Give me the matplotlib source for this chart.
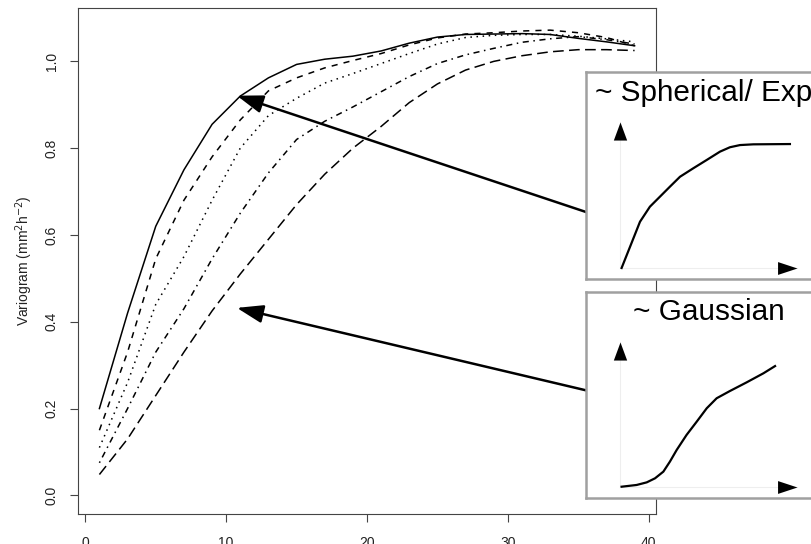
import matplotlib
matplotlib.use("Agg")
import matplotlib.pyplot as plt

plt.rcParams['font.family'] = ['Liberation Sans', 'DejaVu Sans']

# lag distance (h) and variogram curves
lag = [1, 3, 5, 7, 9, 11, 13, 15, 17, 19, 21, 23, 25, 27, 29, 31, 33, 35, 37, 39]
v_solid = [0.20, 0.42, 0.62, 0.75, 0.855, 0.92, 0.962, 0.993, 1.005, 1.012,
           1.024, 1.042, 1.056, 1.062, 1.063, 1.064, 1.062, 1.053, 1.045, 1.036]
v_dashed = [0.15, 0.33, 0.545, 0.68, 0.78, 0.865, 0.932, 0.962, 0.985, 1.002,
            1.018, 1.038, 1.054, 1.063, 1.066, 1.070, 1.072, 1.066, 1.055, 1.036]
v_dotted = [0.11, 0.26, 0.44, 0.55, 0.68, 0.80, 0.875, 0.915, 0.95, 0.972,
            0.995, 1.018, 1.04, 1.055, 1.06, 1.062, 1.062, 1.058, 1.052, 1.045]
v_dotdash = [0.075, 0.20, 0.33, 0.43, 0.545, 0.65, 0.743, 0.82, 0.862, 0.895,
             0.93, 0.965, 0.995, 1.015, 1.03, 1.044, 1.052, 1.057, 1.05, 1.04]
v_longdash = [0.048, 0.13, 0.23, 0.33, 0.425, 0.51, 0.59, 0.67, 0.74, 0.80,
              0.85, 0.905, 0.948, 0.98, 1.0, 1.013, 1.022, 1.027, 1.027, 1.025]

x_ticks = [0, 10, 20, 30, 40]
y_ticks = [0.0, 0.2, 0.4, 0.6, 0.8, 1.0]

# schematic inset curves (normalised 0..1 units)
sph_x = [0.009, 0.057, 0.113, 0.169, 0.226, 0.282, 0.339, 0.414, 0.490,
         0.565, 0.621, 0.678, 0.753, 0.960]
sph_y = [0.0, 0.146, 0.317, 0.420, 0.489, 0.557, 0.625, 0.683, 0.740,
         0.797, 0.827, 0.842, 0.847, 0.849]
gau_x = [0.009, 0.094, 0.151, 0.198, 0.245, 0.282, 0.320, 0.376, 0.433,
         0.490, 0.546, 0.621, 0.716, 0.810, 0.876]
gau_y = [0.002, 0.014, 0.032, 0.060, 0.106, 0.175, 0.255, 0.359, 0.450,
         0.543, 0.612, 0.662, 0.722, 0.784, 0.834]

W, H = 812, 544
fig = plt.figure(figsize=(W / 100, H / 100), dpi=100)
ax = fig.add_axes([78 / W, 1 - 514 / H, 578 / W, 506 / H])

styles = [
    (v_solid, '-'),
    (v_dashed, (0, (4, 4))),
    (v_dotted, (0, (1, 3))),
    (v_dotdash, (0, (1, 3, 4, 3))),
    (v_longdash, (0, (7, 3.5))),
]
for vals, ls in styles:
    ax.plot(lag, vals, color='black', lw=1.1, linestyle=ls)

ax.set_xlim(-0.52, 40.52)
ax.set_ylim(-0.043, 1.123)
ax.set_xticks(x_ticks)
ax.set_xticklabels([str(t) for t in x_ticks])
ax.set_yticks(y_ticks)
ax.set_yticklabels(['%.1f' % t for t in y_ticks])
for sp in ax.spines.values():
    sp.set_color('#444444')
    sp.set_linewidth(0.8)
ax.tick_params(axis='both', length=6, width=0.8, color='#444444',
               labelsize=10, labelcolor='#222222')
ax.tick_params(axis='x', pad=10)
ax.tick_params(axis='y', pad=8)
for lab in ax.get_yticklabels():
    lab.set_rotation(90)
    lab.set_va('center')

fig.text(24 / W, 1 - 261 / H, r'Variogram (mm$^{2}$h$^{-2}$)', rotation=90,
         ha='center', va='center', fontsize=10, color='#222222')

# arrows pointing at the curve groups
arrow_kw = dict(arrowstyle='-|>,head_length=1.6,head_width=0.55',
                mutation_scale=10, color='black', lw=1.8,
                shrinkA=0, shrinkB=0)
ax.annotate('', xy=(10.76, 0.921), xytext=(610, H - 220),
            textcoords='figure pixels', arrowprops=arrow_kw,
            annotation_clip=False)
ax.annotate('', xy=(10.76, 0.432), xytext=(610, H - 396),
            textcoords='figure pixels', arrowprops=arrow_kw,
            annotation_clip=False)


def inset_box(top, bottom, title, tx, ty):
    h = bottom - top
    bx = fig.add_axes([586 / W, 1 - bottom / H, 240 / W, h / H])
    bx.set_facecolor('white')
    bx.set_xlim(0, 240)
    bx.set_ylim(h, 0)
    bx.set_xticks([])
    bx.set_yticks([])
    for sp in bx.spines.values():
        sp.set_color('#a0a0a0')
        sp.set_linewidth(1.8)
    bx.text(tx, ty, title, fontsize=21.4, va='baseline', ha='left',
            color='black')
    return bx


def schematic(origin_y, height, xs, ys):
    sx = fig.add_axes([620 / W, 1 - origin_y / H, 177 / W, height / H])
    sx.set_xlim(0, 1)
    sx.set_ylim(0, 1)
    sx.axis('off')
    sx.patch.set_alpha(0)
    sx.plot([0, 1], [0, 0], color='#eeeeee', lw=0.8, clip_on=False)
    sx.plot([0, 0], [0, 1], color='#eeeeee', lw=0.8, clip_on=False)
    sx.plot([0], [1], marker=[(0, 0), (-0.37, -1), (0.37, -1)], ms=26,
            color='black', mew=0, clip_on=False)
    sx.plot([1], [0], marker=[(0, 0), (-1, 0.33), (-1, -0.33)], ms=28,
            color='black', mew=0, clip_on=False)
    sx.plot(xs, ys, color='black', lw=1.6, clip_on=False,
            solid_joinstyle='round')


inset_box(72, 279, '~ Spherical/ Exp', 9, 29)
schematic(268, 146, sph_x, sph_y)
inset_box(292, 498, '~ Gaussian', 47, 28)
schematic(487, 145, gau_x, gau_y)

fig.savefig('out.png', dpi=100)
